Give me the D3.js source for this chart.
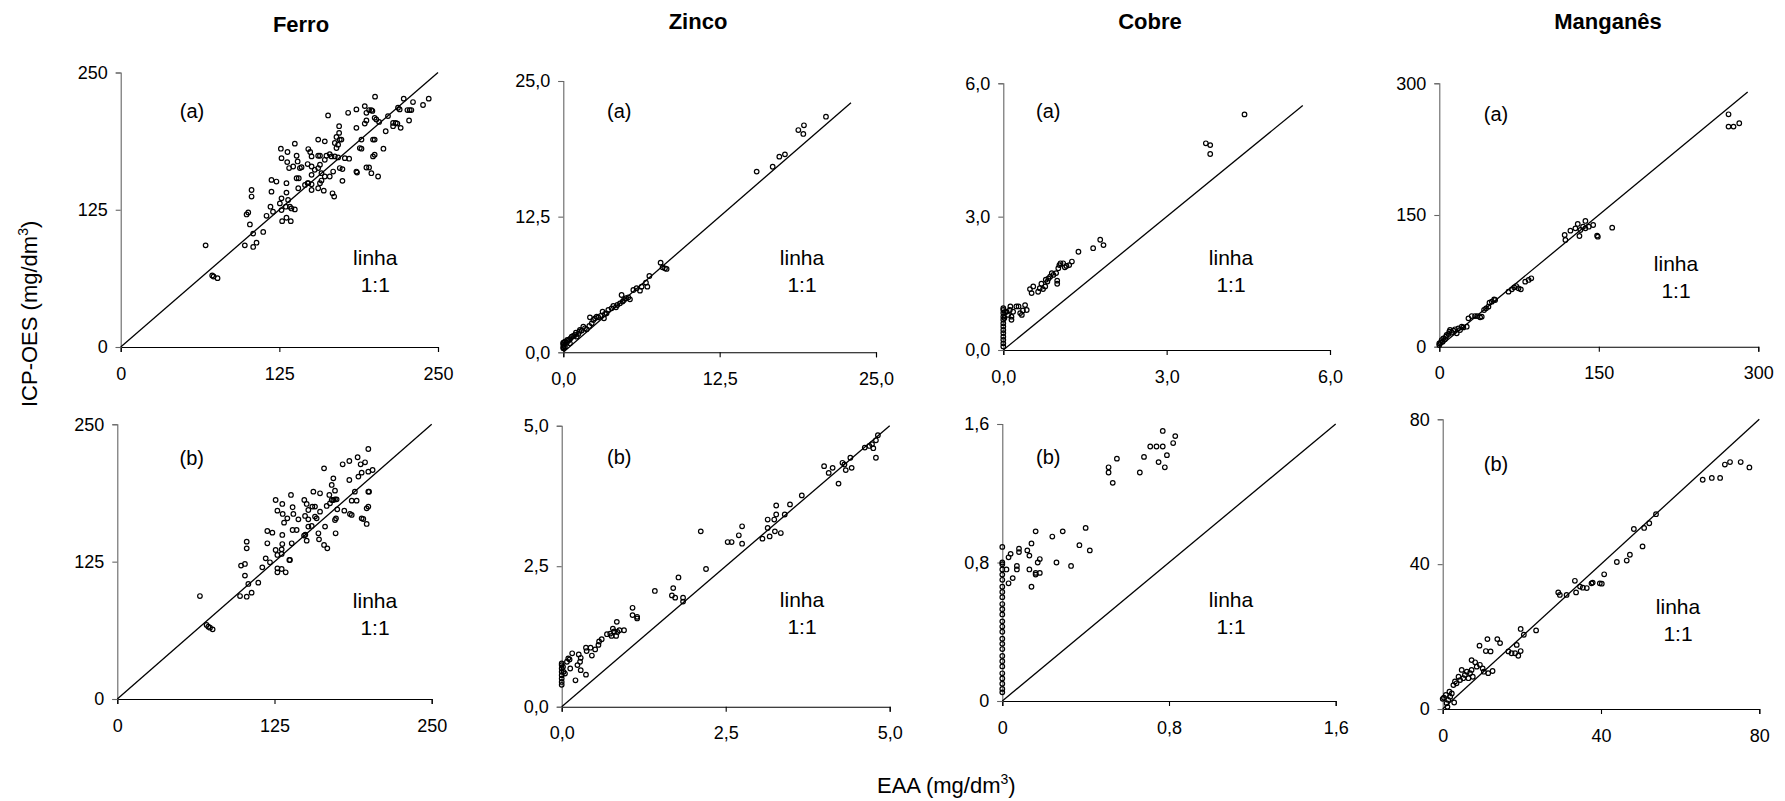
<!DOCTYPE html>
<html><head><meta charset="utf-8">
<script src="https://cdn.jsdelivr.net/npm/d3@7"></script>
<style>body{margin:0;background:#fff;} text{font-family:"Liberation Sans",Arial,sans-serif;}</style>
</head><body>
<script>
// ---------- DATA ----------
const titles = ["Ferro", "Zinco", "Cobre", "Manganês"];
const yAxisLabel = "ICP-OES (mg/dm";
const xAxisLabel = "EAA (mg/dm";

const ferroTicks = [0, 125, 250];
const ferroTickLabels = ["0", "125", "250"];
const zincoATicks = [0, 12.5, 25];
const zincoATickLabels = ["0,0", "12,5", "25,0"];
const zincoBTicks = [0, 2.5, 5];
const zincoBTickLabels = ["0,0", "2,5", "5,0"];
const cobreATicks = [0, 3, 6];
const cobreATickLabels = ["0,0", "3,0", "6,0"];
const cobreBTicks = [0, 0.8, 1.6];
const cobreBTickLabels = ["0", "0,8", "1,6"];
const mnATicks = [0, 150, 300];
const mnATickLabels = ["0", "150", "300"];
const mnBTicks = [0, 40, 80];
const mnBTickLabels = ["0", "40", "80"];

// extent of the 1:1 reference line in each panel
const lineMax = [250, 23, 5.5, 290, 250, 5, 1.6, 80];
const panelTags = ["(a)", "(a)", "(a)", "(a)", "(b)", "(b)", "(b)", "(b)"];

// [EAA, ICP-OES]
const ferroA = [[66.9,92.6],[72.1,65.1],[73.2,64.2],[76.3,62.7],[97.8,92.6],[99.2,120.7],[100.5,122.5],[103.1,143],[103.1,137],[101.8,111.6],[104.4,103.3],[104.4,91.1],[107,95],[112.3,104.8],[114.9,119.5],[118.8,152.2],[122.7,150.7],[118,127.8],[120,123.2],[118.8,141.5],[126.2,180.6],[131.4,177.6],[126.7,172],[131.2,168.4],[126.7,135.4],[126.7,124.7],[130.1,127.8],[127.2,114.6],[130.6,117.7],[125.4,130.8],[130.6,149.2],[130.6,140.6],[132.7,163],[135.9,164.4],[131.9,133.9],[133.3,127.8],[134.5,126.2],[137.2,125.3],[134,114.6],[137.2,185.2],[138.6,174.2],[139.4,169],[138.6,153.7],[140.3,153.7],[139.9,144.6],[141.2,163],[142.5,163.8],[147.8,180.3],[149.3,177.6],[147.3,166.6],[150.4,164.4],[150.4,173.6],[155.6,174.2],[157,174.2],[147.3,149.2],[150.4,148.2],[150.4,156.8],[152.9,161.4],[145.2,147.6],[147.8,149.2],[150.4,143],[155.6,144.6],[157,149.2],[158.2,151.6],[155.6,163],[157,166],[158.2,158.3],[160.8,155.3],[155.6,188.9],[160.8,187.3],[160,142.4],[166.9,140],[168.2,137],[160.8,170.5],[162.1,174.2],[163.4,210.9],[164.7,175.7],[166.1,173.6],[164.7,155.3],[167.4,159.8],[168.7,185.8],[170,181.2],[171.3,184.3],[172.6,188.9],[173.9,188.9],[170,191.3],[172.1,195],[172.1,201.1],[168.7,173.6],[171.3,172.7],[172.6,163],[174.7,162],[176.6,172],[180,171.5],[174.7,151.3],[179.2,213.3],[185.7,216.4],[185.7,199.6],[185.7,159.8],[186.2,158.9],[188.4,181.2],[189.7,180.6],[189.7,188.9],[192.3,219.4],[193.6,213.3],[195.7,215.8],[197.5,215.8],[198.3,215],[192.3,203.5],[193.6,206.3],[193.6,163.5],[195.7,163.5],[197.5,158.3],[198.8,188.9],[200.1,188.9],[198.8,173.6],[200.1,175.1],[200.4,228],[200.1,208.7],[201.4,207.2],[202.8,155.3],[203.6,205],[207,180.6],[208.8,196.5],[210.6,210.3],[214.6,204.1],[216.7,204.1],[214.6,201.1],[218,203.5],[220.6,199.6],[218.5,217.9],[219.8,216.4],[223,226.2],[225.9,215.8],[227.7,215.8],[229,215.8],[227.2,206.3],[230.3,223.1],[238.2,220.4],[242.7,226.2]];

const ferroB = [[65.7,93.7],[71,67.4],[72.4,65.8],[73.7,64.9],[75.8,63.4],[97.6,93.7],[102.9,93.1],[106.8,96.8],[104.2,104.7],[101.5,112.3],[98.4,121.4],[101.5,122.9],[102.9,143.2],[102.9,137.1],[112.1,105.9],[115.3,119.8],[118,128],[121.4,124.4],[119.3,152.9],[123.3,151.4],[119.3,141.7],[125.9,181.1],[131.2,177.5],[127.3,171.4],[131.5,168.4],[125.9,135.6],[130.7,136.2],[127.3,131.1],[130.7,132],[127.3,118.9],[130.7,118.3],[127.3,115.3],[133.9,115.3],[131.2,149.3],[131.2,141],[132.6,160.5],[135.2,164.4],[136.8,126.5],[137.3,126.5],[138.1,185.7],[139.4,174.5],[140,168.4],[139.4,153.8],[142.6,153.8],[138.7,141.7],[144,163.5],[148.7,181.1],[150.6,177.5],[149.3,166.6],[151.9,172],[155.1,175.1],[157.2,175.1],[151.9,163.5],[151.9,156.9],[154.6,157.5],[148.5,148.7],[149.5,149.5],[150.6,144.1],[155.9,188.7],[161.2,187.2],[159.9,150.8],[160.4,145.3],[157.2,166],[158.5,164.4],[161.2,170.5],[164.4,209.9],[164.4,140.2],[167,137.1],[165.2,156.9],[166.5,175.7],[169.1,178.1],[170.5,181.1],[171.8,181.1],[173.1,181.7],[174.4,181.7],[168.6,185.7],[170.5,194.8],[171.8,200.8],[173.1,189.6],[173.1,162.9],[173.9,164.4],[173.6,150.8],[174.9,172.6],[179.2,213.6],[180.5,171.4],[184.5,216.6],[184.5,199.3],[185,168.4],[186.4,167.5],[186.4,180.5],[190.3,180.5],[188.9,188.7],[191.1,220],[191.7,202.4],[193.5,213.6],[194.3,206],[197,215.4],[194.3,164.4],[195.6,163.8],[198.3,159.3],[198.3,173.5],[199.6,175.1],[199.6,188.7],[200.2,188.7],[199.6,206.9],[203,208.4],[199.6,227.5]];

const zincoA = [[0,0.37],[0,0.46],[0,0.68],[0,0.83],[0,0.89],[0.05,0.58],[0.13,0.98],[0.13,0.52],[0.27,0.89],[0.32,1.14],[0.40,1.07],[0.48,1.20],[0.53,0.83],[0.59,1.29],[0.67,1.44],[0.80,1.50],[0.93,1.60],[1.01,1.81],[1.07,1.44],[1.20,1.69],[1.28,1.90],[1.33,2.06],[1.47,2.00],[1.60,2.36],[1.73,2.21],[1.87,2.12],[2.08,2.43],[2.13,3.22],[2.27,2.67],[2.40,2.98],[2.53,3.13],[2.67,3.29],[2.80,3.22],[2.99,3.35],[3.14,3.75],[3.25,3.13],[3.33,3.53],[3.46,3.59],[3.60,3.90],[3.86,4.05],[4.00,4.27],[4.21,4.15],[4.32,4.36],[4.53,4.51],[4.66,5.28],[4.74,4.67],[4.85,4.82],[5.01,4.98],[5.20,5.07],[5.33,4.88],[5.60,5.74],[5.86,5.90],[6.13,5.68],[6.26,6.05],[6.61,6.42],[6.72,6.05],[6.88,7.03],[7.78,8.26],[7.94,7.83],[8.13,7.74],[8.26,7.68],[15.46,16.65],[16.74,17.1],[17.27,18.03],[17.72,18.24],[18.79,20.48],[19.19,20.12],[19.24,20.92],[21.0,21.71]];

const zincoB = [[0,0.74],[0,0.68],[0,0.62],[0,0.56],[0,0.50],[0,0.44],[0,0.39],[0,0.77],[0.02,0.71],[0.03,0.62],[0.05,0.59],[0.08,0.80],[0.10,0.86],[0.12,0.84],[0.13,0.68],[0.16,0.95],[0.21,0.47],[0.24,0.74],[0.26,0.93],[0.28,0.80],[0.29,0.87],[0.29,0.65],[0.37,0.57],[0.37,1.05],[0.38,0.99],[0.44,1.05],[0.46,0.91],[0.51,1.02],[0.56,1.10],[0.57,1.16],[0.61,1.20],[0.69,1.29],[0.74,1.30],[0.76,1.26],[0.78,1.39],[0.80,1.34],[0.83,1.26],[0.85,1.33],[0.88,1.36],[0.95,1.36],[0.84,1.51],[1.08,1.76],[1.08,1.63],[1.15,1.60],[1.15,1.57],[1.42,2.06],[1.68,1.98],[1.70,2.11],[1.73,1.94],[1.78,2.30],[1.85,1.94],[1.85,1.87],[2.12,3.12],[2.20,2.45],[2.53,2.93],[2.59,2.93],[2.70,3.05],[2.75,3.21],[2.75,2.90],[3.06,2.99],[3.14,3.33],[3.14,3.18],[3.17,3.03],[3.24,3.33],[3.25,3.12],[3.27,3.42],[3.27,3.58],[3.34,3.09],[3.40,3.42],[3.48,3.60],[3.66,3.76],[4.00,4.28],[4.07,4.16],[4.13,4.25],[4.22,3.97],[4.28,4.34],[4.31,4.31],[4.33,4.21],[4.40,4.43],[4.42,4.25],[4.62,4.61],[4.69,4.64],[4.73,4.67],[4.75,4.60],[4.79,4.43],[4.79,4.74],[4.82,4.83]];

const cobreA = [[0,0.08],[0,0.15],[0,0.23],[0,0.30],[0,0.38],[0,0.45],[0,0.53],[0,0.60],[0,0.68],[0,0.75],[0,0.83],[0,0.90],[0,0.94],[0.02,0.72],[0.03,0.85],[0.06,0.86],[0.09,0.79],[0.12,0.90],[0.13,0.98],[0.15,0.75],[0.15,0.68],[0.18,0.86],[0.24,0.98],[0.28,0.98],[0.31,0.83],[0.34,0.79],[0.36,0.89],[0.40,1.01],[0.43,0.90],[0.49,1.37],[0.52,1.28],[0.55,1.43],[0.64,1.31],[0.67,1.39],[0.70,1.49],[0.73,1.37],[0.77,1.43],[0.78,1.58],[0.81,1.54],[0.83,1.61],[0.86,1.65],[0.89,1.73],[0.92,1.69],[0.97,1.73],[0.99,1.56],[0.99,1.49],[1.01,1.84],[1.03,1.91],[1.05,1.95],[1.10,1.95],[1.13,1.86],[1.16,1.89],[1.21,1.91],[1.26,1.99],[1.38,2.21],[1.65,2.29],[1.78,2.48],[1.84,2.36],[3.72,4.65],[3.80,4.61],[3.80,4.41],[4.43,5.30]];

const cobreB = [[0,0.05],[0,0.07],[0,0.10],[0,0.13],[0,0.16],[0,0.20],[0,0.23],[0,0.26],[0,0.30],[0,0.33],[0,0.36],[0,0.40],[0,0.43],[0,0.46],[0,0.50],[0,0.53],[0,0.56],[0,0.60],[0,0.63],[0,0.66],[0,0.70],[0,0.73],[0,0.76],[0,0.79],[0,0.80],[0,0.89],[0.02,0.76],[0.03,0.68],[0.03,0.83],[0.04,0.85],[0.05,0.71],[0.07,0.78],[0.07,0.76],[0.08,0.86],[0.08,0.88],[0.12,0.87],[0.13,0.84],[0.13,0.76],[0.14,0.91],[0.14,0.66],[0.16,0.74],[0.16,0.73],[0.18,0.74],[0.17,0.80],[0.18,0.82],[0.16,0.98],[0.24,0.95],[0.26,0.80],[0.29,0.98],[0.33,0.78],[0.37,0.90],[0.40,1.00],[0.42,0.87],[0.51,1.35],[0.51,1.32],[0.53,1.26],[0.55,1.40],[0.66,1.32],[0.68,1.41],[0.71,1.47],[0.74,1.47],[0.75,1.38],[0.77,1.47],[0.77,1.56],[0.78,1.35],[0.79,1.42],[0.82,1.49],[0.83,1.53]];

const mnA = [[0,1.9],[0,3.8],[1.3,4.6],[2.2,7.6],[3.1,5.7],[3.8,9.5],[5.3,8.4],[6.3,11.4],[6.9,13.3],[8.5,14.4],[9.4,17.1],[10.1,19.0],[11.6,16.0],[13.2,18.2],[14.8,19.8],[16.4,15.2],[17.9,20.9],[19.5,19.0],[21.1,22.8],[22.6,22.0],[25.8,22.8],[27.4,32.3],[30.5,34.9],[33.6,34.9],[35.8,34.9],[38.4,33.4],[39.9,34.2],[42.1,41.8],[44.0,43.7],[46.2,45.6],[47.2,50.1],[49.4,51.3],[51.6,53.9],[52.5,53.2],[65.1,62.7],[68.2,65.3],[70.4,67.6],[72.3,69.1],[74.5,66.5],[76.7,65.3],[80.8,74.1],[84.0,76.0],[86.5,77.9],[117.9,127.2],[118.6,121.5],[123.3,132.2],[128.0,134.8],[130.2,139.8],[131.8,126.1],[132.7,132.9],[135.2,136.7],[137.4,134.8],[140.6,136.7],[144.7,138.6],[137.4,143.2],[148.4,126.5],[149.1,125.3],[162.6,135.6],[272.0,264.7],[272.0,250.7],[276.7,250.7],[282.1,254.5]];

const mnB = [[0,2.8],[0.3,3.1],[0.8,3.9],[1.0,1.6],[1.2,0.6],[1.4,2.5],[1.9,3.4],[1.7,4.8],[2.3,4.3],[2.9,1.8],[2.7,6.6],[3.1,7.6],[3.5,7.1],[4.0,8.9],[4.4,8.0],[4.8,10.8],[5.2,8.5],[5.6,9.4],[6.1,10.3],[6.5,8.5],[6.9,9.9],[7.3,10.8],[7.6,8.9],[7.3,13.5],[8.2,12.9],[8.6,11.7],[9.4,12.2],[10.1,11.2],[10.4,10.3],[9.3,17.5],[10.9,16.0],[11.3,19.3],[12.1,15.9],[11.5,9.9],[12.6,10.5],[13.8,19.3],[14.5,18.2],[16.6,15.9],[17.4,15.4],[18.3,15.4],[18.7,17.7],[19.1,14.7],[19.7,16.0],[19.7,22.1],[20.5,20.5],[23.6,21.7],[29.2,32.2],[29.6,31.5],[31.3,31.5],[33.4,35.4],[33.7,32.2],[34.7,33.8],[35.4,33.5],[36.4,33.4],[37.6,34.7],[37.9,34.9],[39.7,34.7],[40.2,34.6],[40.8,37.2],[44.0,40.6],[46.5,41.0],[47.3,42.6],[48.3,49.7],[50.5,44.9],[50.9,50.0],[52.2,51.3],[53.9,53.8],[65.7,63.3],[68.0,63.8],[70.1,63.8],[71.3,67.5],[72.6,68.2],[75.3,68.2],[77.5,66.7]];

// ---------- LAYOUT ----------
const panels = [
  {data: ferroA, ticks: ferroTicks, labels: ferroTickLabels, x0:120.7, x1:438, y0:72.5, y1:347, tag:[192,111.7], linha:[375.3,258]},
  {data: zincoA, ticks: zincoATicks, labels: zincoATickLabels, x0:563.3, x1:876, y0:81, y1:352.3, tag:[619.3,111.7], linha:[802,258]},
  {data: cobreA, ticks: cobreATicks, labels: cobreATickLabels, x0:1003.3, x1:1330, y0:83.3, y1:350, tag:[1048.3,111.7], linha:[1231,258]},
  {data: mnA, ticks: mnATicks, labels: mnATickLabels, x0:1439.3, x1:1758.3, y0:83.3, y1:346.7, tag:[1496,115], linha:[1676,264]},
  {data: ferroB, ticks: ferroTicks, labels: ferroTickLabels, x0:117.3, x1:431.7, y0:424.3, y1:699, tag:[191.7,459], linha:[375,601]},
  {data: zincoB, ticks: zincoBTicks, labels: zincoBTickLabels, x0:561.7, x1:889.7, y0:425.7, y1:706.7, tag:[619.3,458], linha:[802,600]},
  {data: cobreB, ticks: cobreBTicks, labels: cobreBTickLabels, x0:1002.3, x1:1335.7, y0:424, y1:701, tag:[1048.3,458.3], linha:[1231,600]},
  {data: mnB, ticks: mnBTicks, labels: mnBTickLabels, x0:1442.7, x1:1759.3, y0:419.3, y1:709, tag:[1496,465], linha:[1678,606.7]}
];
const titlePos = [[301,31.5],[698,29],[1150,29],[1608,29]];

const svg = d3.select("body").append("svg").attr("width", 1785).attr("height", 801);

panels.forEach((p, i) => {
  const max = p.ticks[p.ticks.length - 1];
  const x = d3.scaleLinear().domain([0, max]).range([p.x0, p.x1]);
  const y = d3.scaleLinear().domain([0, max]).range([p.y1, p.y0]);

  const gx = svg.append("g").attr("transform", `translate(0,${p.y1})`)
    .call(d3.axisBottom(x).tickValues(p.ticks).tickFormat((d, k) => p.labels[k]).tickSize(5).tickPadding(15));
  const gy = svg.append("g").attr("transform", `translate(${p.x0},0)`)
    .call(d3.axisLeft(y).tickValues(p.ticks).tickFormat((d, k) => p.labels[k]).tickSize(5).tickPadding(8));
  [gx, gy].forEach(g => {
    g.attr("font-size", 18).attr("font-family", '"Liberation Sans",Arial,sans-serif');
    g.selectAll("text").attr("fill", "#000");
  });
  gx.selectAll("path,line").attr("stroke", "#000").attr("stroke-width", 1.1);
  gy.selectAll("path,line").attr("stroke", "#666").attr("stroke-width", 1.1);

  svg.append("line")
    .attr("x1", x(0)).attr("y1", y(0)).attr("x2", x(lineMax[i])).attr("y2", y(lineMax[i]))
    .attr("stroke", "#000").attr("stroke-width", 1.3);

  svg.append("g").selectAll("circle").data(p.data).join("circle")
    .attr("cx", d => x(d[0])).attr("cy", d => y(d[1])).attr("r", 2.3)
    .attr("fill", "none").attr("stroke", "#000").attr("stroke-width", 1.2);

  svg.append("text").attr("x", p.tag[0]).attr("y", p.tag[1]).attr("dy", "0.3em")
    .attr("text-anchor", "middle").attr("font-size", 20).text(panelTags[i]);
  svg.append("text").attr("x", p.linha[0]).attr("y", p.linha[1]).attr("dy", "0.35em")
    .attr("text-anchor", "middle").attr("font-size", 21).text("linha");
  svg.append("text").attr("x", p.linha[0]).attr("y", p.linha[1] + 27).attr("dy", "0.35em")
    .attr("text-anchor", "middle").attr("font-size", 21).text("1:1");
});

titles.forEach((t, i) => {
  svg.append("text").attr("x", titlePos[i][0]).attr("y", titlePos[i][1])
    .attr("text-anchor", "middle").attr("font-size", 22).attr("font-weight", "bold").text(t);
});

const yl = svg.append("text").attr("transform", "translate(36.5,407) rotate(-90)")
  .attr("text-anchor", "start").attr("font-size", 22);
yl.append("tspan").text(yAxisLabel);
yl.append("tspan").attr("font-size", 14).attr("dy", -9).text("3");
yl.append("tspan").attr("dy", 9).text(")");

const xl = svg.append("text").attr("x", 877).attr("y", 793)
  .attr("text-anchor", "start").attr("font-size", 22);
xl.append("tspan").text(xAxisLabel);
xl.append("tspan").attr("font-size", 14).attr("dy", -9).text("3");
xl.append("tspan").attr("dy", 9).text(")");
</script>
</body></html>
